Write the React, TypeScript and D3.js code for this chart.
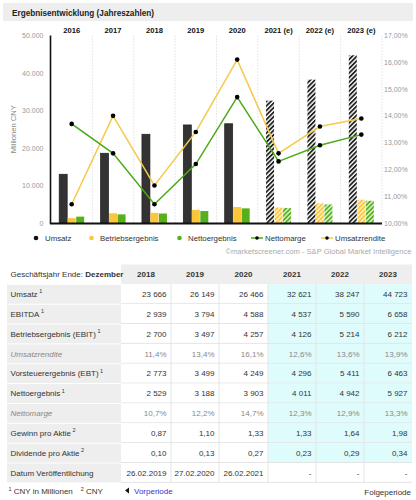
import React from "react";
import * as d3 from "d3";

const categories = ["2016", "2017", "2018", "2019", "2020", "2021 (e)", "2022 (e)", "2023 (e)"];
const estimated = [false, false, false, false, false, true, true, true];
const umsatz = [13000, 18600, 23666, 26149, 26466, 32621, 38247, 44723];
const betriebsergebnis = [1300, 2600, 2700, 3497, 4257, 4126, 5214, 6212];
const nettoergebnis = [1700, 2300, 2529, 3188, 3903, 4011, 4942, 5927];
const nettomarge = [13.7, 12.6, 10.7, 12.2, 14.7, 12.3, 12.9, 13.3];
const umsatzrendite = [10.7, 14.0, 11.4, 13.4, 16.1, 12.6, 13.6, 13.9];
const leftTicks = [0, 10000, 20000, 30000, 40000, 50000];
const rightTicks = [10, 11, 12, 13, 14, 15, 16, 17];

const tableYears = ["2018", "2019", "2020", "2021", "2022", "2023"];
const tableForecast = [false, false, false, true, true, true];
const rowLabels = [
  "Umsatz", "EBITDA", "Betriebsergebnis (EBIT)", "Umsatzrendite", "Vorsteuerergebnis (EBT)",
  "Nettoergebnis", "Nettomarge", "Gewinn pro Aktie", "Dividende pro Aktie", "Datum Veröffentlichung",
];
const rowSup = ["1", "1", "1", "", "1", "1", "", "2", "2", ""];
const rowItalic = [false, false, false, true, false, false, true, false, false, false];
const rowValues = [
  ["23 666", "26 149", "26 466", "32 621", "38 247", "44 723"],
  ["2 939", "3 794", "4 588", "4 537", "5 590", "6 658"],
  ["2 700", "3 497", "4 257", "4 126", "5 214", "6 212"],
  ["11,4%", "13,4%", "16,1%", "12,6%", "13,6%", "13,9%"],
  ["2 773", "3 499", "4 249", "4 296", "5 411", "6 463"],
  ["2 529", "3 188", "3 903", "4 011", "4 942", "5 927"],
  ["10,7%", "12,2%", "14,7%", "12,3%", "12,9%", "13,3%"],
  ["0,87", "1,10", "1,33", "1,33", "1,64", "1,98"],
  ["0,10", "0,13", "0,27", "0,23", "0,29", "0,34"],
  ["26.02.2019", "27.02.2020", "26.02.2021", "-", "-", "-"],
];

const FONT = "'Liberation Sans', Arial, sans-serif";
const C_BLACK = "#333333";
const C_YELLOW = "#fcc63a";
const C_GREEN = "#55b01a";
const C_LYELLOW = "#f5c94a";
const C_LGREEN = "#4ca915";

const de = d3.formatLocale({ decimal: ",", thousands: ".", grouping: [3], currency: ["", "€"] });
const fmtLeft = de.format(",.0f");
const fmtRight = (v: number) => de.format(".2f")(v) + "%";

export default function App() {
  const plotL = 51, plotR = 382, plotT = 35.5, plotB = 223;
  const x = d3.scaleBand<string>().domain(categories).range([plotL, plotR]).padding(0);
  const series = ["u", "b", "n"];
  const sub = d3.scaleBand<string>().domain(series).range([-12.5, 12.5]).paddingInner(0.06);
  const yL = d3.scaleLinear().domain([0, 50000]).range([plotB, plotT]);
  const yR = d3.scaleLinear().domain([10, 17]).range([plotB, plotT]);
  const cx = (c: string) => (x(c) as number) + x.bandwidth() / 2;

  const lineGen = d3.line<number>().x((_, i) => cx(categories[i])).y((d) => yR(d));

  // table geometry
  const colX = [7, 121, 171, 219, 268, 316, 364, 412];
  const tTop = 264.5;
  const rowH = 19.85;
  const nRows = rowLabels.length;

  return (
    <svg width={416} height={500} style={{ position: "absolute", left: 0, top: 0 }} fontFamily={FONT}>
      <defs>
        <pattern id="hatchK" patternUnits="userSpaceOnUse" width={3.2} height={3.2} patternTransform="rotate(45)">
          <rect width={3.2} height={3.2} fill="#ffffff" />
          <rect width={1.8} height={3.2} fill="#222222" />
        </pattern>
        <pattern id="hatchY" patternUnits="userSpaceOnUse" width={3.2} height={3.2} patternTransform="rotate(45)">
          <rect width={3.2} height={3.2} fill="#fff3cc" />
          <rect width={1.8} height={3.2} fill={C_YELLOW} />
        </pattern>
        <pattern id="hatchG" patternUnits="userSpaceOnUse" width={3.2} height={3.2} patternTransform="rotate(45)">
          <rect width={3.2} height={3.2} fill="#e3f5d6" />
          <rect width={1.8} height={3.2} fill={C_GREEN} />
        </pattern>
      </defs>

      {/* title bar */}
      <rect x={3} y={3} width={410} height={18} fill="#eeeeee" />
      <text x={12} y={15.5} fontSize={8.2} fontWeight="bold" fill="#222">Ergebnisentwicklung (Jahreszahlen)</text>

      {/* vertical dotted grid */}
      {categories.map((c) => (
        <line key={"g" + c} x1={(x(c) as number) + x.bandwidth()} x2={(x(c) as number) + x.bandwidth()}
          y1={plotT} y2={plotB} stroke="#c8c8c8" strokeWidth={0.8} strokeDasharray="1,2" />
      ))}

      {/* year labels */}
      {categories.map((c) => (
        <text key={"y" + c} x={cx(c)} y={32.5} textAnchor="middle" fontSize={7.6} fontWeight="bold" fill="#111">{c}</text>
      ))}

      {/* left axis labels */}
      {leftTicks.map((t) => (
        <text key={"l" + t} x={43.5} y={yL(t) + 2.6} textAnchor="end" fontSize={7} fill="#999">{fmtLeft(t)}</text>
      ))}
      <text transform={`translate(15.5,${(plotT + plotB) / 2}) rotate(-90)`} textAnchor="middle" fontSize={7.6} fill="#888">Millionen CNY</text>

      {/* right axis labels */}
      {rightTicks.map((t) => (
        <text key={"r" + t} x={384} y={yR(t) + 2.6} textAnchor="start" fontSize={7} fill="#999">{fmtRight(t)}</text>
      ))}

      {/* bars */}
      {categories.map((c, i) => {
        const base = cx(c);
        const est = estimated[i];
        const vals = [umsatz[i], betriebsergebnis[i], nettoergebnis[i]];
        const fills = est ? ["url(#hatchK)", "url(#hatchY)", "url(#hatchG)"] : [C_BLACK, C_YELLOW, C_GREEN];
        return series.map((s, j) => (
          <rect key={c + s} x={base + (sub(s) as number)} y={yL(vals[j])} width={sub.bandwidth()}
            height={plotB - yL(vals[j])} fill={fills[j]}
            stroke={!est && j === 0 ? "#1e1e1e" : "none"} strokeWidth={0.7} />
        ));
      })}

      {/* axis lines */}
      <line x1={50.5} x2={50.5} y1={plotT} y2={plotB + 1} stroke="#111" strokeWidth={1.6} />
      <line x1={50} x2={plotR} y1={plotB + 0.5} y2={plotB + 0.5} stroke="#111" strokeWidth={1.8} />

      {/* lines */}
      <path d={lineGen(umsatzrendite) || ""} fill="none" stroke={C_LYELLOW} strokeWidth={1.5} />
      <path d={lineGen(nettomarge) || ""} fill="none" stroke={C_LGREEN} strokeWidth={1.5} />
      {umsatzrendite.map((v, i) => (
        <circle key={"pu" + i} cx={cx(categories[i])} cy={yR(v)} r={2.3} fill="#000" />
      ))}
      {nettomarge.map((v, i) => (
        <circle key={"pn" + i} cx={cx(categories[i])} cy={yR(v)} r={2.3} fill="#000" />
      ))}

      {/* legend */}
      <g fontSize={7.8} fill="#333">
        <circle cx={36} cy={238} r={2.3} fill="#111" />
        <text x={45} y={240.8}>Umsatz</text>
        <circle cx={91.5} cy={238} r={2.3} fill={C_YELLOW} />
        <text x={100} y={240.8}>Betriebsergebnis</text>
        <circle cx={179.5} cy={238} r={2.3} fill={C_GREEN} />
        <text x={188} y={240.8}>Nettoergebnis</text>
        <line x1={251} x2={263} y1={238} y2={238} stroke={C_LGREEN} strokeWidth={1.5} />
        <circle cx={257} cy={238} r={1.8} fill="#000" />
        <text x={265} y={240.8}>Nettomarge</text>
        <line x1={321} x2={333} y1={238} y2={238} stroke={C_LYELLOW} strokeWidth={1.5} />
        <circle cx={327} cy={238} r={1.8} fill="#000" />
        <text x={335} y={240.8}>Umsatzrendite</text>
      </g>
      <text x={411.5} y={254} textAnchor="end" fontSize={7.6} fill="#aaa">©marketscreener.com - S&amp;P Global Market Intelligence</text>

      {/* table header */}
      <rect x={colX[1]} y={tTop} width={colX[7] - colX[1]} height={rowH} fill="#eeeeee" />
      <text x={10.5} y={tTop + 12.7} fontSize={8} fill="#333">
        Geschäftsjahr Ende: <tspan fontWeight="bold">Dezember</tspan>
      </text>
      {tableYears.map((yv, j) => (
        <text key={"th" + yv} x={(colX[j + 1] + colX[j + 2]) / 2} y={tTop + 12.7} textAnchor="middle"
          fontSize={8} fontWeight="bold" fill="#333">{yv}</text>
      ))}

      {/* table body */}
      {rowLabels.map((lab, r) => {
        const y0 = tTop + rowH * (r + 1);
        const isLast = r === nRows - 1;
        const italic = rowItalic[r];
        const col = italic ? "#888" : "#333";
        return (
          <g key={"row" + r}>
            <rect x={colX[0]} y={y0 + 0.5} width={colX[1] - colX[0]} height={rowH - 1} fill="#eeeeee" />
            {tableYears.map((_, j) => (
              <rect key={"c" + j} x={colX[j + 1]} y={y0} width={colX[j + 2] - colX[j + 1]} height={rowH}
                fill={tableForecast[j] && !isLast ? "#dffcfc" : "#ffffff"} />
            ))}
            <line x1={colX[1]} x2={colX[7]} y1={y0 + rowH - 0.5} y2={y0 + rowH - 0.5} stroke="#e4e4e4" strokeWidth={1} />
            <text x={10.5} y={y0 + 12.6} fontSize={8} fill={col} fontStyle={italic ? "italic" : "normal"}>
              {lab}
              {rowSup[r] ? <tspan fontSize={5.5} dx={1.5} dy={-3.5}>{rowSup[r]}</tspan> : null}
            </text>
            {rowValues[r].map((v, j) => (
              <text key={"v" + j} x={colX[j + 2] - 4.5} y={y0 + 12.6} textAnchor="end" fontSize={8} fill={col}>{v}</text>
            ))}
          </g>
        );
      })}
      {/* vertical separators */}
      {colX.slice(2, 7).map((cxv, k) => (
        <line key={"vs" + k} x1={cxv} x2={cxv} y1={tTop + rowH} y2={tTop + rowH * (nRows + 1)} stroke="#e4e4e4" strokeWidth={1} />
      ))}

      {/* footer */}
      <text x={8.5} y={494} fontSize={8} fill="#333">
        <tspan fontSize={5.5} dy={-3}>1</tspan><tspan dy={3}> CNY in Millionen</tspan>
        <tspan fontSize={5.5} dx={8} dy={-3}>2</tspan><tspan dy={3}> CNY</tspan>
      </text>
      <path d="M125,490.5 L129,487.5 L129,493.5 Z" fill="#111" />
      <text x={134} y={494} fontSize={8} fill="#3333cc">Vorperiode</text>
      <text x={411} y={494.5} textAnchor="end" fontSize={8} fill="#333">Folgeperiode</text>
    </svg>
  );
}
